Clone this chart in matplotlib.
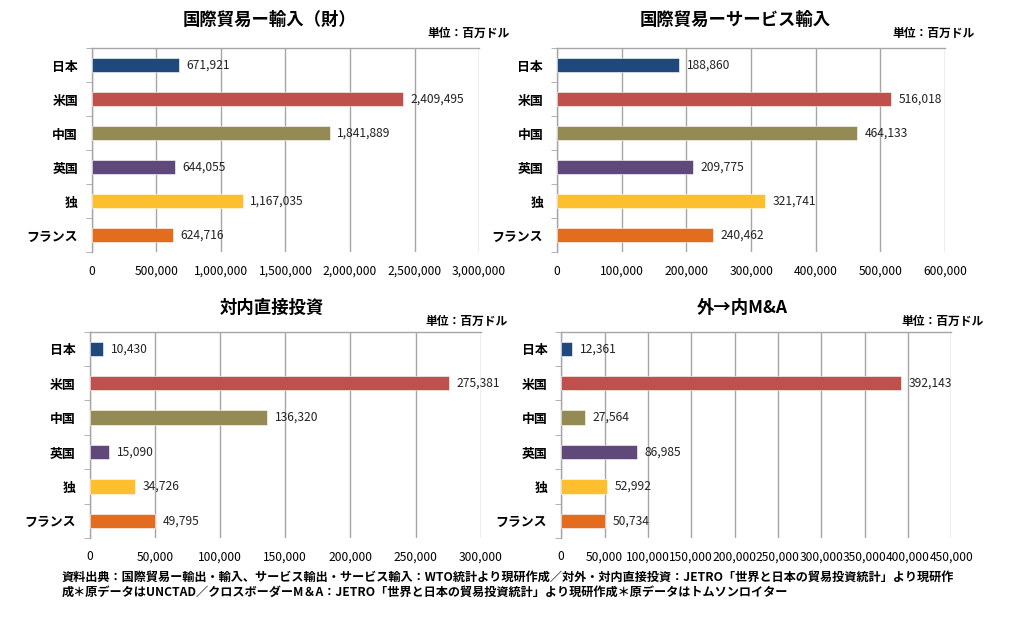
import matplotlib
matplotlib.use("Agg")
import matplotlib.pyplot as plt
from matplotlib.ticker import FuncFormatter, FixedLocator

plt.rcParams['font.family'] = ['Noto Sans CJK JP', 'DejaVu Sans']

countries = ["日本", "米国", "中国", "英国", "独", "フランス"]
colors = ["#1F497D", "#C0504D", "#948A54", "#5F497A", "#FDBF2D", "#E46C1E"]

goods_import = [671921, 2409495, 1841889, 644055, 1167035, 624716]
service_import = [188860, 516018, 464133, 209775, 321741, 240462]
fdi_inward = [10430, 275381, 136320, 15090, 34726, 49795]
ma_inward = [12361, 392143, 27564, 86985, 52992, 50734]

titles = ["国際貿易ー輸入（財）", "国際貿易ーサービス輸入", "対内直接投資", "外→内M&A"]
xmax = [3000000, 600000, 300000, 450000]
xstep = [500000, 100000, 50000, 50000]
unit = "単位：百万ドル"
source = ("資料出典：国際貿易ー輸出・輸入、サービス輸出・サービス輸入：WTO統計より現研作成／対外・対内直接投資：JETRO「世界と日本の貿易投資統計」より現研作\n"
          "成＊原データはUNCTAD／クロスボーダーM＆A：JETRO「世界と日本の貿易投資統計」より現研作成＊原データはトムソンロイター")

fig = plt.figure(figsize=(10.24, 6.27), dpi=100)

# axes boxes in figure fractions
boxes = [
    [0.0898, 0.598, 0.378, 0.325],
    [0.544, 0.598, 0.379, 0.325],
    [0.0876, 0.142, 0.382, 0.329],
    [0.548, 0.142, 0.381, 0.329],
]
title_pos = [(269, 20), (735, 20), (272, 308), (742, 308)]
unit_pos = [(510, 33), (975, 33), (508, 321), (984, 321)]

fmt = FuncFormatter(lambda v, p: f"{int(v):,}")
data = [goods_import, service_import, fdi_inward, ma_inward]

for i in range(4):
    ax = fig.add_axes(boxes[i])
    vals = data[i]
    y = list(range(len(countries)))
    ax.barh(y, vals, height=0.42, color=colors, edgecolor="white", linewidth=0.4, zorder=3)
    for yy, v in zip(y, vals):
        ax.text(v + xmax[i] * 0.02, yy, f"{v:,}", va="center", ha="left", fontsize=8.7, color="#222222", zorder=4)
    ax.set_xlim(0, xmax[i])
    ax.set_ylim(len(countries) - 0.5, -0.5)
    ax.xaxis.set_major_locator(FixedLocator(list(range(0, xmax[i] + 1, xstep[i]))))
    ax.xaxis.set_major_formatter(fmt)
    ax.grid(axis="x", color="#A6A6A6", linewidth=1.0, zorder=0)
    ax.set_yticks(y)
    ax.set_yticklabels(countries, fontsize=9.3, fontweight="bold")
    ax.tick_params(axis="y", length=0, pad=10)
    ax.set_yticks([k - 0.5 for k in range(len(countries) + 1)], minor=True)
    ax.tick_params(axis="y", which="minor", length=4, color="#A6A6A6", direction="out")
    ax.tick_params(axis="x", length=0, labelsize=8.7, pad=9)
    for s in ["right", "bottom"]:
        ax.spines[s].set_visible(False)
    for s in ["left", "top"]:
        ax.spines[s].set_color("#A6A6A6")
        ax.spines[s].set_linewidth(1.0)
    tx, ty = title_pos[i]
    fig.text(tx / 1024, 1 - ty / 627, titles[i], ha="center", va="center", fontsize=12.5, fontweight="bold")
    ux, uy = unit_pos[i]
    fig.text(ux / 1024, 1 - uy / 627, unit, ha="right", va="center", fontsize=8.5, fontweight="bold")

fig.text(62 / 1024, 1 - 585 / 627, source, ha="left", va="center", fontsize=8.75, fontweight="bold", linespacing=1.25)

fig.savefig("out.png", dpi=100, facecolor="white")
